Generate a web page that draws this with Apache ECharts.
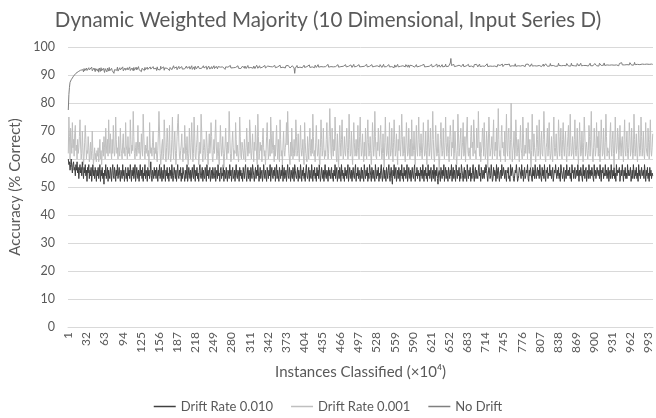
<!DOCTYPE html>
<html>
<head>
<meta charset="utf-8">
<script src="https://cdn.jsdelivr.net/npm/echarts@6/dist/echarts.min.js"></script>
<style>
html,body{margin:0;padding:0;background:#fff;}
#chart{width:656px;height:418px;}
</style>
</head>
<body>
<div id="chart"></div>
<script>
const titleText = "Dynamic Weighted Majority (10 Dimensional, Input Series D)";
const seriesNames = ["Drift Rate 0.010", "Drift Rate 0.001", "No Drift"];
const yTicks = [0,10,20,30,40,50,60,70,80,90,100];

const drift010 = [
60,58,59,56,58,60,57,55,58,59,56,57,54,58,56,59,55,57,53,56,58,55,57,54,59,56,53,57,55,58,54,56,52,57,55,58,53,56,54,57,52,55,58,54,56,53,57,55,52,56,
54,57,53,55,58,52,56,54,57,53,55,51,56,54,58,53,55,57,52,56,54,53,57,55,52,56,58,54,53,57,55,52,56,54,58,53,55,57,54,52,56,55,53,58,54,56,52,55,57,53,
55,52,57,54,56,53,58,55,52,56,54,57,53,55,58,52,54,57,55,53,56,52,55,58,54,56,53,57,52,55,54,58,53,56,55,52,57,54,56,53,55,59,54,52,56,55,53,57,54,56,
53,57,55,52,56,54,58,53,55,57,52,54,56,53,58,55,52,56,54,57,53,55,52,57,54,56,53,58,55,52,54,57,55,53,56,52,55,58,54,53,56,54,57,52,55,53,57,55,54,52,
56,53,55,58,52,54,57,55,53,56,52,55,57,54,53,58,55,52,56,54,57,53,55,52,56,58,54,53,55,57,52,56,54,53,57,55,52,58,54,56,53,55,57,52,54,56,53,57,55,53,
54,57,52,55,56,53,58,54,55,52,56,57,53,55,54,58,52,56,55,53,57,54,52,56,55,53,58,54,56,52,55,57,53,54,56,52,55,58,54,53,56,55,52,57,54,56,53,55,52,57,
55,53,56,58,54,52,55,57,53,56,54,52,57,55,53,58,56,54,52,55,57,53,56,54,58,55,52,54,57,53,55,56,52,54,58,55,53,56,54,52,57,55,53,56,54,58,52,55,57,54,
53,56,54,57,52,55,58,53,56,54,52,57,55,53,56,54,58,52,55,57,53,54,56,52,55,58,54,53,57,55,52,56,54,53,57,55,52,58,56,54,53,55,57,52,56,54,53,58,55,52,
56,54,57,53,55,52,56,58,54,53,55,57,52,56,54,53,58,55,52,56,54,57,53,55,52,57,54,56,53,58,55,52,54,57,55,53,56,52,55,58,54,53,56,55,52,57,54,56,53,55,
57,53,55,52,56,54,58,53,55,57,52,54,56,53,57,55,52,58,54,56,53,55,52,57,54,56,53,55,58,52,54,57,55,53,56,52,55,57,54,53,56,58,52,55,54,57,53,56,54,52,
55,57,53,56,54,52,58,55,53,56,54,57,52,55,53,58,56,54,52,57,55,53,56,54,52,58,55,53,56,54,57,52,55,53,56,58,54,52,55,57,53,56,54,52,57,55,53,56,58,54,
52,55,57,53,51,56,54,58,53,55,57,52,54,56,53,57,55,52,56,54,58,53,55,52,57,54,56,53,55,58,52,54,57,55,53,56,52,55,57,54,53,56,58,52,55,54,57,53,56,54,
55,52,57,54,56,53,58,55,52,56,54,57,53,55,52,58,54,56,53,55,57,52,54,56,53,58,55,52,56,54,57,53,51,55,56,54,52,57,55,53,56,54,58,52,55,57,53,56,54,52,
57,55,53,56,54,58,52,55,57,53,56,54,52,58,55,53,56,54,57,52,55,53,58,56,54,52,55,57,53,56,54,52,58,55,53,56,54,57,52,55,53,56,58,54,52,55,57,53,56,54,
53,56,58,54,55,52,57,55,53,56,54,53,57,55,58,56,54,52,55,57,56,53,54,58,55,52,53,57,54,56,55,52,58,53,56,57,54,52,55,56,53,58,54,55,57,55,53,56,54,52,
56,55,57,53,54,52,58,54,56,57,55,53,52,54,56,55,58,55,52,53,54,57,56,55,53,58,54,56,52,55,57,53,54,56,55,58,53,52,56,54,57,55,55,52,57,54,56,53,58,55,
53,55,57,54,56,53,58,55,55,52,57,54,56,53,58,54,52,56,55,57,53,55,54,58,54,56,53,55,57,52,54,56,55,58,55,53,56,54,57,53,55,52,58,56,56,53,55,57,52,54,
56,53,58,55,54,56,54,57,53,55,52,58,55,56,53,55,57,53,54,56,54,58,55,52,56,54,57,55,55,52,58,54,56,53,56,57,52,55,56,53,58,55,53,56,54,57,55,55,52,58,
54,56,53,55,57,55,54,56,53,58,55,52,56,55,57,53,55,54,58,54,56,53,55,57,52,55,56,53,58,55,53,56,54,57,53,55,52,58,54,56,55,55,57,52,54,56,54,58,55,52,
56,54,57,53,55,53,58,54,56,54,55,57,52,54,56,53,58,55,53,56,54,57,53,55,52,58,54,56,53,55,57,54,54,56,53,58,55,52,56,54,57,53,55,52,57,54,56,53,55,54
];

const drift001 = [
62,75,68,60,71,66,62,73,64,67,61,69,72,63,65,60,67,62,64,68,74,65,60,62,70,64,58,61,66,72,67,60,63,62,68,64,59,62,66,60,63,70,62,58,61,64,60,62,59,63,
61,64,59,62,67,60,63,58,62,66,61,68,64,60,71,65,62,67,61,74,66,62,69,63,60,67,62,72,65,61,63,75,67,62,64,60,68,63,61,71,64,62,60,66,69,62,64,61,73,65,
63,60,68,62,64,61,74,67,62,65,63,77,68,62,60,64,66,61,63,72,64,62,66,60,63,69,64,61,76,69,63,60,65,62,64,68,61,63,57,73,65,62,64,61,66,70,63,60,64,62,
66,61,59,63,69,77,70,62,58,61,65,67,60,62,74,68,61,59,64,71,66,60,63,72,62,59,61,67,75,64,60,66,70,63,58,62,68,73,76,66,61,60,63,65,69,62,59,64,62,72,
66,60,63,68,61,58,62,71,64,60,66,73,65,59,62,75,69,61,60,64,67,72,63,58,61,66,62,76,70,62,59,63,67,64,60,61,70,66,62,58,64,69,62,65,73,68,61,59,63,67,
62,69,74,65,60,62,66,61,58,64,72,66,61,63,68,62,57,61,65,71,64,60,66,62,63,77,69,62,59,61,66,70,64,60,63,62,73,67,61,65,62,59,63,75,68,61,60,66,64,62,
60,67,63,59,64,71,65,61,66,62,74,70,62,60,64,69,63,59,66,63,72,66,61,58,76,68,60,62,66,63,65,59,67,71,64,61,63,58,62,68,73,65,60,62,67,61,75,69,62,64,
70,63,59,65,61,66,72,64,60,67,62,59,74,67,61,63,58,65,70,63,61,64,66,73,65,77,69,62,60,58,66,61,71,65,60,62,67,61,63,74,68,61,63,69,62,59,65,72,64,61,
63,67,61,58,73,66,62,60,59,68,64,60,66,71,63,61,67,62,76,68,61,63,59,66,72,65,61,62,67,60,58,64,74,67,61,63,71,64,60,63,61,67,73,65,60,62,68,78,70,62,
60,71,64,61,67,63,75,68,61,59,69,62,57,64,72,66,61,67,74,65,60,62,68,63,61,66,71,64,60,63,76,67,61,62,70,62,58,65,73,66,61,62,67,61,63,72,64,60,68,75,
66,61,63,69,62,59,66,61,71,65,60,67,74,66,61,63,68,62,58,63,73,67,61,64,77,68,61,60,66,63,71,65,61,67,72,64,60,62,69,62,57,66,75,66,61,62,68,63,60,73,
65,61,63,71,64,59,66,74,67,61,63,69,62,58,67,63,72,65,61,67,76,68,61,62,68,62,59,65,73,66,61,62,71,64,60,67,61,74,66,61,63,70,63,58,65,72,64,61,67,75,
66,61,63,69,62,60,66,73,65,61,62,70,63,58,65,74,66,61,64,71,63,60,67,77,67,61,59,64,72,65,61,62,69,62,56,61,67,73,65,61,63,71,63,60,66,75,66,61,64,68,
62,59,67,72,68,61,66,64,74,60,62,70,65,61,58,63,76,69,61,64,67,71,60,63,66,73,61,62,68,59,65,70,75,63,61,64,62,60,68,72,64,66,61,74,69,62,63,60,71,65,
64,77,67,61,66,59,62,65,71,68,61,73,64,60,62,70,66,57,65,75,69,61,63,64,68,60,67,74,62,61,66,63,71,60,65,78,67,61,63,59,68,72,64,66,62,61,70,59,67,76,
63,61,69,71,63,60,67,80,66,59,63,65,70,60,62,74,68,61,64,67,62,59,66,72,64,62,60,75,69,61,63,65,62,71,65,60,73,64,62,67,61,57,63,76,66,61,69,64,62,59,
64,72,67,61,63,74,64,60,66,70,62,61,67,77,69,61,59,64,66,71,61,65,73,63,60,62,68,62,59,67,75,64,61,64,69,62,60,63,74,68,61,65,71,62,60,67,73,64,61,66,
70,62,59,64,68,72,61,63,76,66,61,62,68,64,60,67,74,63,61,65,71,63,58,64,73,67,61,62,70,64,59,66,75,69,61,64,66,62,60,63,72,68,61,67,77,65,61,59,64,71,
66,61,63,73,64,68,61,70,62,59,65,74,67,61,62,71,64,60,66,76,68,61,64,63,62,60,69,73,64,61,67,70,62,57,65,75,66,62,64,71,68,60,63,72,65,61,66,68,62,59,
67,74,63,61,66,70,62,60,64,73,68,61,63,71,65,60,62,76,67,61,64,69,62,59,65,72,66,61,63,75,68,61,64,70,62,60,65,73,64,62,61,71,66,60,67,74,63,61,64,69
];

const noDrift = [
77.5,83.0,85.6,87.4,86.9,88.3,87.8,89.0,88.4,89.6,88.9,90.1,89.5,90.6,89.9,90.9,90.3,91.2,90.5,91.4,90.8,91.7,91.0,92.0,91.3,91.9,91.1,92.3,91.5,92.1,91.2,92.5,91.6,92.2,91.3,92.6,91.8,91.4,92.4,91.7,92.8,91.5,92.0,91.3,92.5,91.9,91.2,92.3,91.6,92.7,
91.4,92.2,91.0,92.5,91.8,91.3,92.6,91.5,92.0,91.2,92.4,91.7,90.9,92.3,91.6,92.1,91.1,92.5,91.8,91.4,92.7,91.5,92.0,91.2,92.4,91.6,91.0,92.3,90.6,91.9,92.5,91.3,92.1,91.7,92.8,91.4,92.0,91.1,92.6,91.8,91.3,92.4,91.6,92.9,91.5,92.2,91.0,92.5,91.7,92.1,
91.3,92.6,91.8,92.2,91.4,92.9,91.6,92.3,91.1,92.5,91.9,91.5,92.7,91.7,92.2,91.3,92.8,91.8,92.4,91.5,93.0,91.9,92.3,91.6,92.6,91.2,92.4,91.8,93.1,92.0,91.6,92.7,91.9,92.3,91.4,92.8,92.0,91.7,92.5,91.5,92.9,92.1,91.6,92.4,91.8,93.0,92.2,91.7,92.6,91.9,
92.4,91.6,92.9,92.0,91.5,92.7,92.2,91.8,93.1,92.3,91.6,92.6,92.0,92.9,91.7,92.5,92.1,93.2,91.9,92.4,91.8,92.8,92.2,91.6,92.7,92.3,93.0,91.9,92.5,92.1,93.3,92.4,91.8,92.6,92.2,92.9,91.9,92.5,92.0,93.1,92.3,91.8,92.7,92.4,93.0,92.1,92.6,91.9,92.8,92.2,
92.6,92.0,93.2,92.4,91.9,92.8,92.3,93.0,92.1,92.7,92.4,93.3,92.0,92.6,92.2,92.9,91.9,93.1,92.5,92.2,92.9,92.0,93.2,92.6,92.3,92.8,92.0,93.0,92.4,92.7,92.1,93.3,92.5,92.2,92.9,92.4,93.1,92.0,92.7,92.3,93.2,92.6,92.1,92.8,92.4,93.0,92.2,92.7,92.5,93.3,
92.3,92.9,92.1,93.1,92.6,92.2,93.0,92.5,93.3,92.4,92.8,92.2,93.2,92.6,92.9,92.3,93.1,92.5,92.0,92.9,92.6,93.3,92.4,92.8,92.2,93.0,92.7,93.4,92.5,92.9,92.3,93.1,92.6,92.8,92.2,93.2,92.7,92.4,93.0,92.6,93.3,92.4,92.9,92.5,93.1,92.3,92.8,92.6,93.2,92.5,
92.9,92.4,93.2,92.7,92.3,93.0,92.6,93.4,92.5,92.9,92.3,93.1,92.7,93.3,92.5,92.8,92.4,93.2,92.7,92.3,93.0,92.6,93.5,92.8,92.4,93.1,92.6,93.3,92.5,92.9,92.2,93.2,92.8,92.4,93.0,92.7,93.4,92.5,93.1,92.6,92.3,93.2,92.8,93.5,92.6,93.0,92.4,93.3,92.7,92.9,
92.5,93.2,92.8,93.4,92.6,93.0,92.4,93.3,92.9,92.5,93.1,92.7,93.5,92.6,93.0,92.4,93.2,92.8,93.4,92.6,92.9,92.5,93.3,92.8,93.0,92.6,93.4,92.7,93.1,92.5,93.2,92.9,92.4,93.3,92.7,93.0,92.5,90.6,92.4,93.1,92.8,93.4,92.6,93.0,92.5,93.3,92.8,93.5,92.7,93.0,
92.6,93.3,92.9,93.5,92.7,93.1,92.5,93.4,93.0,92.6,93.2,92.8,93.6,92.7,93.1,92.5,93.4,92.9,93.6,92.8,93.2,92.6,93.5,93.0,92.7,93.3,92.9,93.7,92.8,93.1,92.6,93.4,93.0,93.6,92.7,93.2,92.9,93.5,92.6,93.3,93.0,92.7,93.4,93.1,93.8,92.8,93.2,92.6,93.5,93.0,
93.3,92.8,93.6,92.9,93.2,92.6,93.5,93.0,92.7,93.4,93.1,93.7,92.8,93.2,92.6,93.5,93.0,93.3,92.7,93.6,93.1,92.8,93.4,93.0,93.7,92.9,93.2,92.6,93.5,93.1,92.8,93.4,92.9,93.6,93.2,92.7,93.3,93.0,93.8,92.9,93.2,92.6,93.5,93.1,92.8,93.4,93.0,93.7,92.9,93.3,
92.7,93.5,93.0,93.3,92.8,93.6,93.1,92.7,93.4,93.0,93.8,92.9,93.2,92.6,93.5,93.1,92.8,93.4,93.0,93.7,92.9,93.3,92.7,93.5,93.1,92.8,93.6,93.0,93.3,92.6,93.5,93.1,92.9,93.7,93.0,93.2,92.7,93.4,93.1,93.8,92.9,93.3,92.8,93.6,93.0,92.7,93.4,93.2,93.7,92.9,
93.3,92.8,93.5,93.0,93.7,92.9,93.2,92.6,93.6,93.1,92.8,93.4,93.0,93.8,92.9,93.3,92.7,93.5,93.1,92.8,93.6,93.0,93.3,92.7,93.5,93.2,92.9,93.7,93.0,93.4,92.8,93.6,93.1,92.7,93.5,93.0,93.8,92.9,93.3,92.7,93.6,93.1,92.8,93.4,93.0,93.7,92.9,93.3,92.8,93.5,
93.1,92.8,93.6,93.0,93.4,92.7,93.5,93.1,93.8,92.9,93.3,92.8,93.6,93.0,93.4,92.7,93.7,93.1,92.9,93.5,93.0,93.8,92.9,93.3,92.7,93.6,93.2,92.9,93.5,93.0,93.9,92.8,93.3,92.9,93.6,93.1,92.8,93.5,93.0,93.7,92.9,93.4,92.8,93.6,93.1,93.9,93.0,93.3,92.8,93.5,
93.1,93.7,93.0,94.3,95.9,93.4,92.9,93.6,93.1,93.8,93.0,93.4,92.8,93.6,93.2,92.9,93.7,93.1,93.5,92.9,93.8,93.2,93.0,93.6,93.1,93.9,93.0,93.4,92.8,93.7,93.2,92.9,93.5,93.1,93.8,93.0,93.4,92.9,93.6,93.2,93.9,93.0,93.4,92.8,93.7,93.1,93.5,93.0,93.8,93.2,
92.9,93.6,93.1,93.9,93.0,93.4,92.9,93.7,93.2,93.5,93.0,93.8,93.1,92.9,93.6,93.2,94.0,93.0,93.4,92.9,93.7,93.2,93.5,93.0,93.9,93.1,93.4,92.9,93.6,93.2,93.8,93.0,93.5,92.9,93.7,93.3,94.0,93.1,93.4,93.0,93.6,93.2,93.9,93.0,93.5,92.9,93.8,93.3,93.6,93.1,
93.7,93.0,93.5,93.2,93.9,93.1,93.4,92.9,93.8,93.3,93.6,93.0,93.7,93.2,94.0,93.1,93.5,93.0,93.8,93.3,93.6,93.1,93.9,93.2,93.5,93.0,93.7,93.4,94.1,93.1,93.6,93.0,93.8,93.3,93.5,93.1,93.9,93.2,93.6,93.0,93.7,93.4,94.0,93.2,93.5,93.1,93.8,93.3,93.6,93.0,
93.9,93.2,93.6,93.1,93.8,93.4,94.1,93.2,93.5,93.0,93.7,93.3,93.9,93.1,93.6,93.2,94.0,93.3,93.5,93.1,93.8,93.4,93.6,93.2,94.1,93.3,93.5,93.0,93.9,93.4,93.7,93.2,94.0,93.1,93.6,93.3,93.8,93.2,94.2,93.4,93.6,93.1,93.9,93.3,93.5,93.2,94.0,93.4,93.7,93.2,
93.8,93.3,94.1,93.4,93.6,93.2,93.9,93.5,93.7,93.2,94.2,93.4,93.6,93.1,93.9,93.3,94.0,93.5,93.7,93.2,94.1,93.4,93.6,93.2,93.8,93.5,94.2,93.3,93.7,93.1,93.9,93.4,94.0,93.2,93.6,93.4,94.1,93.5,93.8,93.2,93.9,93.4,94.2,93.3,93.7,93.5,94.0,93.3,93.8,93.4,
94.1,93.4,93.8,93.3,94.0,93.5,93.7,93.2,94.2,93.6,93.9,93.4,94.1,93.3,93.8,93.5,94.3,93.4,93.7,93.3,94.0,93.6,93.9,93.4,94.2,93.5,93.8,93.3,94.1,93.6,93.9,93.4,94.3,93.5,93.7,93.4,94.0,93.6,94.2,93.4,93.8,93.3,94.1,93.6,93.9,93.5,94.4,93.6,93.8,93.4,
94.1,93.6,93.9,93.5,94.3,93.7,94.0,93.5,94.2,93.6,94.4,93.7,93.9,93.5,94.2,93.8,94.0,93.6,94.5,93.7,94.1,93.5,94.3,93.8,94.0,93.6,94.4,93.7,94.1,93.6,94.3,93.9,94.0,93.7,94.5,93.8,94.1,93.6,94.4,93.9,94.2,93.7,94.5,93.8,94.1,93.7,94.3,93.9,94.2,93.8
];

const nCats = Math.max(drift010.length, drift001.length, noDrift.length);
const categories = [];
for (let i = 1; i <= nCats; i++) categories.push(String(i));

const colors = ["#404040", "#bfbfbf", "#7f7f7f"];
const FONT = "Lato";

const chart = echarts.init(document.getElementById('chart'), null, {renderer: 'canvas'});
chart.setOption({
  animation: false,
  backgroundColor: '#ffffff',
  textStyle: {fontFamily: FONT},
  title: {
    text: titleText,
    left: 'center',
    top: 5,
    textStyle: {fontFamily: FONT, fontSize: 20.5, fontWeight: 'normal', color: '#595959'}
  },
  legend: {
    data: seriesNames,
    top: 395,
    left: 'center',
    icon: 'rect',
    itemWidth: 22,
    itemHeight: 1.5,
    itemGap: 18,
    textStyle: {fontFamily: FONT, fontSize: 13, color: '#595959'}
  },
  grid: {left: 68, right: 3, top: 47, bottom: 91, containLabel: false, outerBoundsMode: 'none'},
  xAxis: {
    type: 'category',
    data: categories,
    boundaryGap: true,
    axisLine: {show: true, lineStyle: {color: '#d9d9d9'}},
    axisTick: {show: false},
    axisLabel: {interval: 30, rotate: 90, fontSize: 12, color: '#595959', margin: 5, fontFamily: FONT},
    splitLine: {show: false},
    name: 'Instances Classified (×10⁴)',
    nameLocation: 'middle',
    nameGap: 38,
    nameTextStyle: {fontFamily: FONT, fontSize: 15, color: '#595959'}
  },
  yAxis: {
    type: 'value',
    min: yTicks[0],
    max: yTicks[yTicks.length - 1],
    interval: 10,
    axisLine: {show: false},
    axisTick: {show: false},
    axisLabel: {fontSize: 12.5, color: '#595959', margin: 13, fontFamily: FONT},
    splitLine: {lineStyle: {color: '#d9d9d9', width: 1}},
    name: 'Accuracy (% Correct)',
    nameLocation: 'middle',
    nameRotate: 90,
    nameGap: 38,
    nameTextStyle: {fontFamily: FONT, fontSize: 15, color: '#595959'}
  },
  series: [
    {name: seriesNames[0], type: 'line', data: drift010, symbol: 'none', color: colors[0], lineStyle: {width: 1, color: colors[0]}},
    {name: seriesNames[1], type: 'line', data: drift001, symbol: 'none', color: colors[1], lineStyle: {width: 1, color: colors[1]}},
    {name: seriesNames[2], type: 'line', data: noDrift, symbol: 'none', color: colors[2], lineStyle: {width: 1, color: colors[2]}}
  ]
});
</script>
</body>
</html>
